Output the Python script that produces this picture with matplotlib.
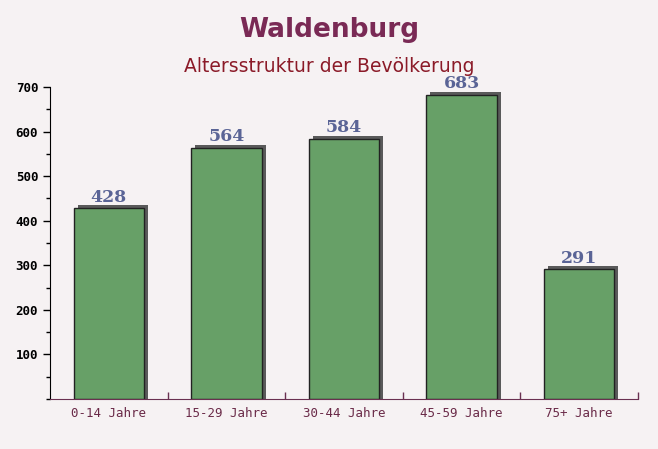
import matplotlib.pyplot as plt
from matplotlib.ticker import MultipleLocator, FixedLocator
import numpy as np

categories = ['0-14 Jahre', '15-29 Jahre', '30-44 Jahre', '45-59 Jahre', '75+ Jahre']
values = [428, 564, 584, 683, 291]

title = 'Waldenburg'
subtitle = 'Altersstruktur der Bevölkerung'

bg = '#f6f2f3'
bar_c = '#67a067'
shadow_c = '#5a5a5a'
label_c = '#5a6496'

fig = plt.figure(figsize=(6.58, 4.49), dpi=100)
fig.patch.set_facecolor(bg)
ax = fig.add_axes([50/658, 1-399/449, 588/658, 312/449])
ax.set_facecolor('none')

x = np.arange(len(categories))
w = 0.6

# shadow behind bars (offset right/up a few pixels)
dx = 4 / 117.6
dy = 3 / 0.4457
ax.bar(x + dx, values, width=w, bottom=0, color=shadow_c, zorder=1)
ax.bar(x + dx, [dy]*len(x), width=w, bottom=np.array(values), color=shadow_c, zorder=1)
ax.bar(x, values, width=w, color=bar_c, edgecolor='#222222', linewidth=1.0, zorder=2)

for xi, v in zip(x, values):
    ax.text(xi, v + 5, str(v), ha='center', va='bottom', fontsize=12.5,
            fontweight='bold', family='DejaVu Serif', color=label_c, zorder=3)

ax.set_xlim(-0.5, len(categories) - 0.5)
ax.set_ylim(0, 700)

ax.yaxis.set_minor_locator(MultipleLocator(50))
ax.set_yticks(range(100, 701, 100))
ax.set_yticklabels([str(t) for t in range(100, 701, 100)], family='DejaVu Sans Mono',
                   fontsize=9, fontweight='bold')
ax.tick_params(axis='y', which='major', length=5, width=1, direction='out', colors='black')
ax.tick_params(axis='y', which='minor', length=3, width=1, direction='out')

ax.set_xticks(x)
ax.set_xticklabels(categories, family='DejaVu Sans Mono', fontsize=9, color='#6a2a48')
ax.xaxis.set_minor_locator(FixedLocator(np.arange(0.5, len(categories), 1)))
ax.tick_params(axis='x', which='major', length=0, pad=6)
ax.tick_params(axis='x', which='minor', length=5, width=1, direction='in', color='#6a3050')

for s in ['top', 'right']:
    ax.spines[s].set_visible(False)
ax.spines['left'].set_color('black')
ax.spines['bottom'].set_color('#6a3050')

fig.text(0.5, 1-30/449, title, ha='center', va='center', fontsize=19,
         fontweight='bold', color='#7a2a55')
fig.text(0.5, 1-66/449, subtitle, ha='center', va='center', fontsize=13.5,
         color='#8b1a28')

plt.savefig('out.png', dpi=100, facecolor=bg)
